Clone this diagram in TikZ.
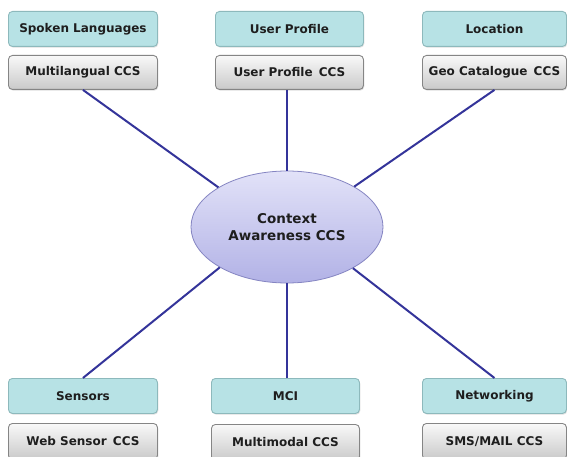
\documentclass[tikz,border=0pt]{standalone}
\usepackage{fontspec}
\setmainfont{DejaVu Sans}
\usetikzlibrary{shapes.geometric,shadows}
\definecolor{tealfill}{HTML}{B7E2E5}
\definecolor{tealedge}{HTML}{8DB9BC}
\definecolor{grayedge}{HTML}{858585}
\definecolor{ellfilltop}{HTML}{E2E2F8}
\definecolor{ellfillbot}{HTML}{B2B2E6}
\definecolor{elledge}{HTML}{8585C2}
\definecolor{linkcol}{HTML}{34349A}
\definecolor{txt}{HTML}{1E1E1E}
\tikzset{
  basebox/.style={rounded corners=4pt, inner sep=0pt, anchor=north west,
    font=\fontsize{12}{14}\selectfont\bfseries, text=txt, line width=0.9pt,
    drop shadow={opacity=0.25, shadow xshift=0.8pt, shadow yshift=-1.2pt}},
  topicbox/.style={basebox, fill=tealfill, draw=tealedge},
  ccsbox/.style={basebox, draw=grayedge, top color=white!95!gray, bottom color=gray!42},
  hub/.style={ellipse, draw=elledge, line width=0.8pt, top color=ellfilltop, bottom color=ellfillbot,
    minimum width=192pt, minimum height=112pt, inner sep=0pt, align=center,
    font=\fontsize{13.5}{17}\selectfont\bfseries, text=txt},
  link/.style={draw=linkcol, line width=2pt}
}
\begin{document}
\begin{tikzpicture}[x=1pt,y=-1pt]
\useasboundingbox (0,0) rectangle (567,457);
\fill[white] (0,0) rectangle (567,457);
% top row
\node[topicbox, minimum width=149pt, minimum height=35pt] (sl) at (8,11) {Spoken Languages};
\node[ccsbox, minimum width=149pt, minimum height=34pt] (ml) at (8,55) {Multilangual CCS};
\node[topicbox, minimum width=148pt, minimum height=35pt] (up) at (215,11) {User Profile};
\node[ccsbox, minimum width=148pt, minimum height=34pt] (upc) at (215,55) {User Profile\, CCS};
\node[topicbox, minimum width=144pt, minimum height=35pt] (loc) at (422,11) {Location};
\node[ccsbox, minimum width=144pt, minimum height=34pt] (geo) at (422,55) {Geo Catalogue\, CCS};
% bottom row
\node[topicbox, minimum width=149pt, minimum height=35pt] (sen) at (8,378) {Sensors};
\node[ccsbox, minimum width=149pt, minimum height=36pt] (web) at (8,423) {Web Sensor\, CCS};
\node[topicbox, minimum width=148pt, minimum height=35pt] (mci) at (211,378) {MCI};
\node[ccsbox, minimum width=148pt, minimum height=36pt] (mm) at (211,424) {Multimodal CCS};
\node[topicbox, minimum width=144pt, minimum height=35pt] (net) at (422,378) {Networking};
\node[ccsbox, minimum width=144pt, minimum height=36pt] (sms) at (422,423) {SMS/MAIL CCS};
% hub
\node[hub] (hub) at (287,227) {Context\\Awareness CCS};
% links
\draw[link] (ml.south) -- (hub.150);
\draw[link] (upc.south -| hub.north) -- (hub.north);
\draw[link] (geo.south) -- (hub.31);
\draw[link] (sen.north) -- (hub.211);
\draw[link] (mci.north -| hub.south) -- (hub.south);
\draw[link] (net.north) -- (hub.328);
\end{tikzpicture}
\end{document}
